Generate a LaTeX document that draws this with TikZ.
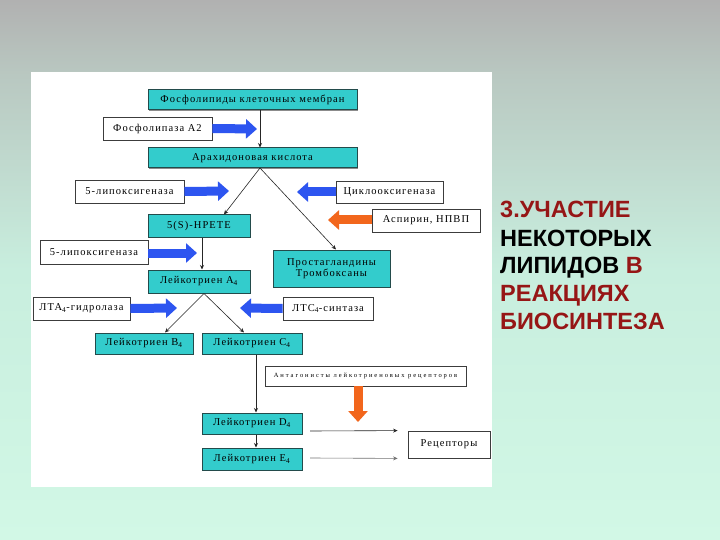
\documentclass[tikz,border=0pt]{standalone}
\usepackage{fontspec}
\setmainfont{Liberation Serif}
\newfontfamily\boxfont[LetterSpace=10]{Liberation Serif}
\newfontfamily\tinyfont[LetterSpace=30]{Liberation Serif}
\newfontfamily\headfont{Liberation Sans}
\usetikzlibrary{arrows.meta,shadows}

\definecolor{cellfill}{RGB}{51,204,204}
\definecolor{celledge}{RGB}{35,75,75}
\definecolor{enzedge}{RGB}{60,60,60}
\definecolor{pushblue}{RGB}{45,85,240}
\definecolor{pushorange}{RGB}{242,102,28}
\definecolor{headred}{RGB}{150,22,22}
\definecolor{bgtop}{RGB}{177,177,177}
\definecolor{bgup}{RGB}{185,200,193}
\definecolor{bgmid}{RGB}{200,238,222}
\definecolor{bgbot}{RGB}{210,248,230}
\pgfdeclareverticalshading{slidebg}{100bp}{color(0bp)=(bgbot); color(25bp)=(bgbot); color(50bp)=(bgmid); color(68bp)=(bgup); color(75bp)=(bgtop); color(100bp)=(bgtop)}

\begin{document}
\begin{tikzpicture}[x=1pt,y=-1pt,
    cell/.style={draw=celledge,fill=cellfill,line width=1pt,inner sep=0pt,
      font=\boxfont\fontsize{10.5}{11.5}\selectfont,align=center,
      drop shadow={shadow xshift=1.2pt,shadow yshift=-1.2pt,fill=black,opacity=0.45}},
    enzyme/.style={draw=enzedge,fill=white,line width=0.8pt,inner sep=0pt,
      font=\boxfont\fontsize{10.5}{11.5}\selectfont,
      drop shadow={shadow xshift=1.2pt,shadow yshift=-1.2pt,fill=black,opacity=0.45}},
    flow/.style={draw=black!85,line width=0.6pt,-{Stealth[length=4.5pt,width=4pt]}},
    pushright/.style={draw=pushblue,line width=9pt,-{Triangle[length=11pt,width=19pt]}},
    pushstop/.style={draw=pushorange,line width=9pt,-{Triangle[length=11pt,width=19pt]}},
    headline/.style={anchor=base west,inner sep=0pt,
      font=\headfont\bfseries\fontsize{23.5}{28}\selectfont}]
  \useasboundingbox (0,0) rectangle (720,540);
  \shade[shading=slidebg] (0,0) rectangle (720,540);
  \fill[white] (31,72) rectangle (492,487);

  %% enzymes and their block arrows
  \node[enzyme,minimum width=109pt,minimum height=23pt] (pla2) at (157.5,128.5) {Фосфолипаза А2};
  \node[enzyme,minimum width=109pt,minimum height=23pt] (lox1) at (129.5,191.5) {5-липоксигеназа};
  \node[enzyme,minimum width=107pt,minimum height=22pt] (cox) at (389.5,192) {Циклооксигеназа};
  \node[enzyme,minimum width=108pt,minimum height=23pt] (asp) at (426,220.5) {Аспирин, НПВП};
  \node[enzyme,minimum width=108pt,minimum height=24pt] (lox2) at (94,252) {5-липоксигеназа};
  \node[enzyme,minimum width=97pt,minimum height=23pt] (hydro) at (81.5,308.5) {ЛТА\textsubscript{4}-гидролаза};
  \node[enzyme,minimum width=90pt,minimum height=23pt] (ltcs) at (328,308.5) {ЛТС\textsubscript{4}-синтаза};
  \node[enzyme,minimum width=201pt,minimum height=20pt,font=\tinyfont\fontsize{6.5}{7}\selectfont] (antag) at (365.5,376) {Антагонисты лейкотриеновых рецепторов};
  \node[enzyme,minimum width=82pt,minimum height=27pt] (rec) at (449,444.5) {Рецепторы};

  \coordinate (p1) at (257,129);
  \coordinate (p2) at (229,191);
  \coordinate (p3) at (297,192);
  \coordinate (p4) at (328,220);
  \coordinate (p5) at (197,253);
  \coordinate (p6) at (177,308);
  \coordinate (p7) at (240,308);
  \coordinate (p8) at (358,422);
  \draw[pushright] (pla2.east) -- (p1);
  \draw[pushright] (lox1.east) -- (p2);
  \draw[pushright] (cox.west |- p3) -- (p3);
  \draw[pushstop] (asp.west |- p4) -- (p4);
  \draw[pushright] (lox2.east |- p5) -- (p5);
  \draw[pushright] (hydro.east) -- (p6);
  \draw[pushright] (ltcs.west) -- (p7);
  \draw[pushstop] (antag.south -| p8) -- (p8);

  %% metabolites
  \node[cell,minimum width=209pt,minimum height=20pt] (fosf) at (252.5,100) {Фосфолипиды клеточных мембран};
  \node[cell,minimum width=209pt,minimum height=20pt] (arach) at (252.5,158) {Арахидоновая кислота};
  \node[cell,minimum width=102pt,minimum height=22pt] (hpete) at (199,226) {5(S)-НРЕТЕ};
  \node[cell,minimum width=102pt,minimum height=23pt] (lta4) at (199,281.5) {Лейкотриен А\textsubscript{4}};
  \node[cell,minimum width=117pt,minimum height=37pt] (pg) at (331.5,268.5) {Простагландины\\Тромбоксаны};
  \node[cell,minimum width=98pt,minimum height=21pt] (ltb4) at (144,343.5) {Лейкотриен В\textsubscript{4}};
  \node[cell,minimum width=100pt,minimum height=21pt] (ltc4) at (252,343.5) {Лейкотриен С\textsubscript{4}};
  \node[cell,minimum width=100pt,minimum height=21pt] (ltd4) at (252,423.5) {Лейкотриен D\textsubscript{4}};
  \node[cell,minimum width=100pt,minimum height=22pt] (lte4) at (252,459) {Лейкотриен Е\textsubscript{4}};

  %% thin arrows
  \coordinate (fork1) at (260,168);
  \coordinate (fork2) at ([xshift=5pt]lta4.south);
  \draw[flow] (fosf.south -| fork1) -- (arach.north -| fork1);
  \draw[flow] (fork1) -- ([xshift=25pt]hpete.north);
  \draw[flow] (fork1) -- ([xshift=4.5pt]pg.north);
  \draw[flow] ([xshift=3pt]hpete.south) -- ([xshift=3pt]lta4.north);
  \draw[flow] (fork2) -- ([xshift=21pt]ltb4.north);
  \draw[flow] (fork2) -- ([xshift=-8pt]ltc4.north);
  \draw[flow] ([xshift=4pt]ltc4.south) -- ([xshift=4pt]ltd4.north);
  \draw[flow] ([xshift=4pt]ltd4.south) -- ([xshift=4pt]lte4.north);
  \coordinate (r1) at (310,431);
  \coordinate (r2) at (310,458);
  \draw[flow] (r1) -- ([xshift=-10pt]rec.north west);
  \draw[flow,draw=black!55] (r2) -- ([xshift=-10pt]rec.south west);

  %% heading
  \node[headline,text=headred] (h1) at (500,218) {3.УЧАСТИЕ};
  \node[headline] (h2) at (500,246) {НЕКОТОРЫХ};
  \node[headline] (h3) at (500,273.5) {ЛИПИДОВ \textcolor{headred}{В}};
  \node[headline,text=headred] (h4) at (500,301) {РЕАКЦИЯХ};
  \node[headline,text=headred] (h5) at (500,329.5) {БИОСИНТЕЗА};
\end{tikzpicture}
\end{document}
